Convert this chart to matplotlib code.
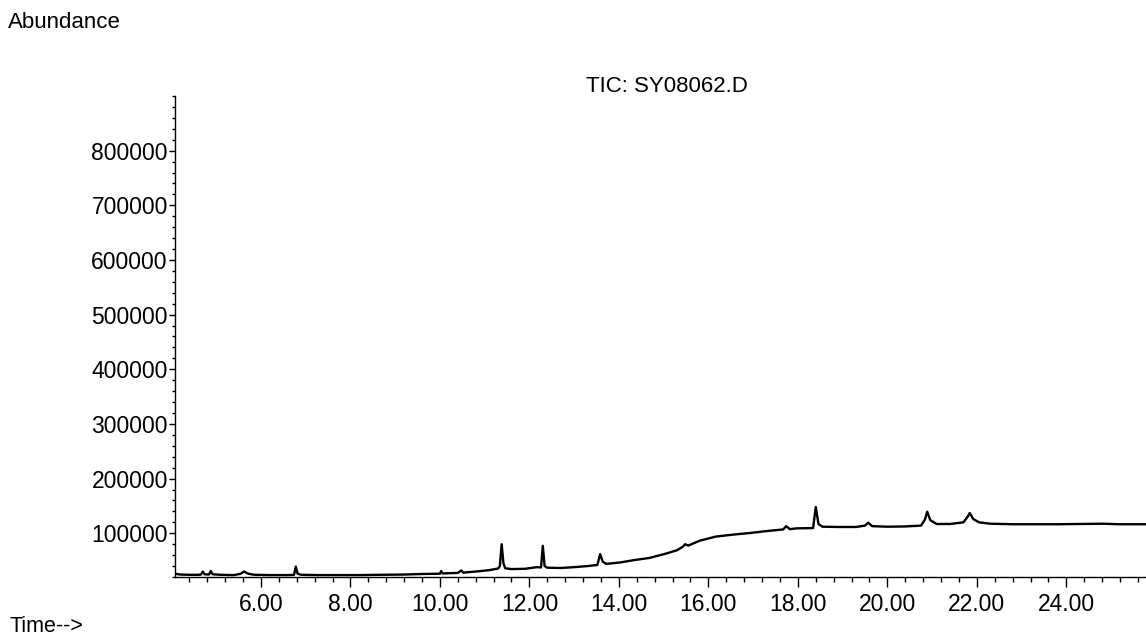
import matplotlib
matplotlib.use("Agg")
import matplotlib.pyplot as plt
from matplotlib.ticker import MultipleLocator, FixedLocator, FormatStrFormatter

# ---- data (retention time in min, abundance) ----
times = [4.08, 4.20, 4.40, 4.60, 4.66, 4.70, 4.74, 4.84, 4.88, 4.92, 5.10, 5.40,
         5.55, 5.62, 5.72, 5.85, 6.20, 6.60, 6.74, 6.78, 6.82, 6.90, 7.30, 7.80,
         8.20, 8.66, 9.20, 9.60, 10.00, 10.03, 10.06, 10.40, 10.48, 10.52, 10.80,
         11.10, 11.30, 11.34, 11.38, 11.42, 11.46, 11.60, 11.90, 12.17, 12.26,
         12.30, 12.34, 12.40, 12.70, 13.00, 13.30, 13.52, 13.58, 13.64, 13.72,
         14.02, 14.31, 14.69, 15.06, 15.30, 15.43, 15.48, 15.55, 15.81, 16.17,
         16.55, 16.93, 17.30, 17.67, 17.74, 17.82, 17.97, 18.34, 18.40, 18.46,
         18.55, 18.90, 19.30, 19.50, 19.57, 19.66, 20.00, 20.40, 20.75, 20.84,
         20.89, 20.96, 21.10, 21.40, 21.70, 21.80, 21.84, 21.92, 22.05, 22.30,
         22.80, 23.30, 23.80, 24.30, 24.80, 25.20, 25.78]
abundance = [26000, 24500, 24000, 24000, 24500, 30000, 25000, 24500, 31000, 25000,
             24000, 23500, 26000, 30000, 26000, 24000, 23500, 23500, 24000, 39000,
             26000, 24000, 23500, 23500, 23500, 24000, 24500, 25500, 26000, 31000,
             26500, 27500, 32000, 28000, 30000, 32500, 35500, 40000, 80000, 45000,
             36000, 34500, 35000, 38000, 37500, 77000, 40000, 37000, 36500, 38000,
             40000, 42000, 62000, 48000, 44000, 46500, 50500, 55000, 63000, 69000,
             75500, 80000, 77500, 86500, 94000, 97500, 100500, 104000, 107000,
             113000, 107500, 109000, 109500, 148000, 117000, 112000, 111500,
             111500, 114000, 119500, 113000, 112000, 112500, 114000, 125000,
             139500, 124000, 117000, 117000, 120000, 131000, 137000, 126000,
             120000, 117500, 116500, 116500, 116500, 117000, 117500, 116500, 116500]

x_major = [6.0, 8.0, 10.0, 12.0, 14.0, 16.0, 18.0, 20.0, 22.0, 24.0]
y_major = [100000, 200000, 300000, 400000, 500000, 600000, 700000, 800000]

title = "TIC: SY08062.D"
ylabel = "Abundance"
xlabel = "Time-->"

plt.rcParams['font.family'] = ['Liberation Sans', 'DejaVu Sans']

fig = plt.figure(figsize=(11.46, 6.38), dpi=100)
W, H = 1146, 638
ax = fig.add_axes([175 / W, (H - 577) / H, (1146 - 175) / W, (577 - 96) / H])

ax.plot(times, abundance, color='black', lw=1.7)

ax.set_xlim(4.08, 25.78)
ax.set_ylim(20000, 900000)

for s in ['top', 'right']:
    ax.spines[s].set_visible(False)
for s in ['left', 'bottom']:
    ax.spines[s].set_color('black')
    ax.spines[s].set_linewidth(1.0)

ax.xaxis.set_major_locator(FixedLocator(x_major))
ax.xaxis.set_major_formatter(FormatStrFormatter('%.2f'))
ax.xaxis.set_minor_locator(MultipleLocator(0.4))
ax.yaxis.set_major_locator(FixedLocator(y_major))
ax.yaxis.set_major_formatter(FormatStrFormatter('%d'))
ax.yaxis.set_minor_locator(MultipleLocator(20000))

ax.tick_params(axis='x', which='major', direction='out', length=7.5, width=1,
               pad=4, labelsize=16.5, colors='black')
ax.tick_params(axis='x', which='minor', direction='out', length=3.8, width=1,
               colors='black')
ax.tick_params(axis='y', which='major', direction='out', length=4.2, width=1,
               pad=1, labelsize=16.5, colors='black')
ax.tick_params(axis='y', which='minor', direction='out', length=2, width=1,
               colors='black')

fig.text(666.7 / W, 1 - 86 / H, title, ha='center', va='center', fontsize=16)
fig.text(8 / W, 1 - 22 / H, ylabel, ha='left', va='center', fontsize=16)
fig.text(10 / W, 1 - 632 / H, xlabel, ha='left', va='baseline', fontsize=15.5)

fig.savefig('out.png', dpi=100)
